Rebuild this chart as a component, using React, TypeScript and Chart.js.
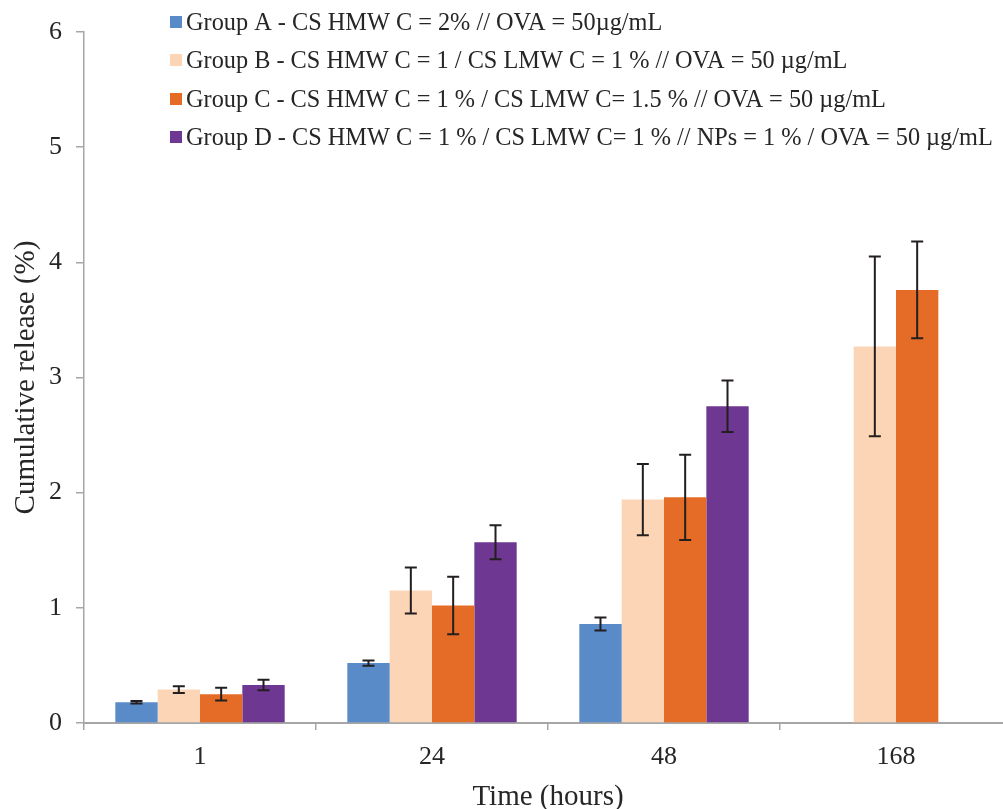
import React, { useEffect, useRef } from "react";
import { Chart, registerables } from "chart.js";

Chart.register(...registerables);

const categories = ["1", "24", "48", "168"];

const seriesNames = [
  "Group A - CS HMW C = 2% // OVA = 50µg/mL",
  "Group B - CS HMW C = 1 / CS LMW C = 1 % // OVA = 50 µg/mL",
  "Group C - CS HMW C = 1 % / CS LMW C= 1.5 % // OVA = 50 µg/mL",
  "Group D - CS HMW C = 1 % / CS LMW C= 1 % // NPs = 1 % / OVA = 50 µg/mL",
];

const groupA = [0.18, 0.52, 0.86, null];
const groupB = [0.29, 1.15, 1.94, 3.27];
const groupC = [0.25, 1.02, 1.96, 3.76];
const groupD = [0.33, 1.57, 2.75, null];

const errA = [0.01, 0.022, 0.056, null];
const errB = [0.03, 0.2, 0.31, 0.78];
const errC = [0.055, 0.25, 0.37, 0.42];
const errD = [0.045, 0.148, 0.223, null];

const colors = ["#598BC9", "#FBD5B5", "#E46C26", "#6E3792"];

const yTicks = [0, 1, 2, 3, 4, 5, 6];

const FONT = "'Liberation Serif', 'Times New Roman', serif";
const TEXT = "#262626";
const AXIS = "#a6a6a6";

const errorBarPlugin = {
  id: "errorBars",
  afterDatasetsDraw(chart: any) {
    const ctx = chart.ctx;
    const yScale = chart.scales.y;
    ctx.save();
    ctx.strokeStyle = "#231F20";
    ctx.lineWidth = 2;
    chart.data.datasets.forEach((ds: any, di: number) => {
      const meta = chart.getDatasetMeta(di);
      const errs = ds.errors as (number | null)[];
      ds.data.forEach((v: number | null, i: number) => {
        const e = errs[i];
        if (v == null || e == null) return;
        const x = meta.data[i].x;
        const yTop = yScale.getPixelForValue(v + e);
        const yBot = yScale.getPixelForValue(v - e);
        const cap = 6;
        ctx.beginPath();
        ctx.moveTo(x, yTop);
        ctx.lineTo(x, yBot);
        ctx.moveTo(x - cap, yTop);
        ctx.lineTo(x + cap, yTop);
        ctx.moveTo(x - cap, yBot);
        ctx.lineTo(x + cap, yBot);
        ctx.stroke();
      });
    });
    ctx.restore();
  },
};

const legendPlugin = {
  id: "customLegend",
  afterDraw(chart: any) {
    const ctx = chart.ctx;
    ctx.save();
    ctx.font = `24.3px ${FONT}`;
    ctx.textBaseline = "alphabetic";
    ctx.textAlign = "left";
    const x0 = 170;
    const rowY = [22, 60, 99, 137];
    chart.data.datasets.forEach((ds: any, i: number) => {
      const cy = rowY[i];
      ctx.fillStyle = ds.backgroundColor;
      ctx.fillRect(x0, cy - 6, 12, 12);
      ctx.fillStyle = TEXT;
      ctx.fillText(ds.label, x0 + 16, cy + 8);
    });
    ctx.restore();
  },
};

export default function App() {
  const ref = useRef<HTMLCanvasElement | null>(null);
  useEffect(() => {
    if (!ref.current) return;
    const values = [groupA, groupB, groupC, groupD];
    const errs = [errA, errB, errC, errD];
    const chart = new Chart(ref.current, {
      type: "bar",
      data: {
        labels: categories,
        datasets: seriesNames.map((name, i) => ({
          label: name,
          data: values[i],
          errors: errs[i],
          backgroundColor: colors[i],
          borderWidth: 0,
          barPercentage: 1,
          categoryPercentage: 0.73,
        })) as any,
      },
      options: {
        animation: false,
        responsive: false,
        devicePixelRatio: 1,
        layout: { padding: { top: 32, right: 3, left: 0, bottom: 0 } },
        plugins: {
          legend: { display: false },
          tooltip: { enabled: false },
        },
        scales: {
          x: {
            afterFit: (s: any) => {
              s.height = 86;
            },
            grid: {
              display: true,
              drawOnChartArea: false,
              drawTicks: true,
              tickLength: 7,
              offset: true,
              color: AXIS,
              lineWidth: 1.5,
            },
            border: { display: true, color: AXIS, width: 2 },
            ticks: {
              color: TEXT,
              font: { family: FONT, size: 26 },
              padding: 12,
            },
            title: {
              display: true,
              text: "Time (hours)",
              color: TEXT,
              font: { family: FONT, size: 29, lineHeight: 0.8 },
              padding: { top: 0, bottom: 0 },
            },
          },
          y: {
            min: 0,
            max: 6,
            afterFit: (s: any) => {
              s.width = 84;
            },
            afterBuildTicks: (s: any) => {
              s.ticks = yTicks.map((v) => ({ value: v }));
            },
            grid: {
              display: true,
              drawOnChartArea: false,
              drawTicks: true,
              tickLength: 8,
              color: AXIS,
              lineWidth: 1.5,
            },
            border: { display: true, color: AXIS, width: 1.5 },
            ticks: {
              color: TEXT,
              font: { family: FONT, size: 26 },
              padding: 14,
            },
            title: {
              display: true,
              text: "Cumulative release (%)",
              color: TEXT,
              font: { family: FONT, size: 29, lineHeight: 1.2 },
              padding: { top: 9, bottom: 0 },
            },
          },
        },
      },
      plugins: [errorBarPlugin, legendPlugin],
    });
    return () => chart.destroy();
  }, []);

  return (
    <div
      style={{
        position: "absolute",
        left: 0,
        top: 0,
        width: 1003,
        height: 809,
        overflow: "hidden",
        background: "#fff",
      }}
    >
      <canvas ref={ref} width={1015} height={809} style={{ display: "block" }} />
    </div>
  );
}
